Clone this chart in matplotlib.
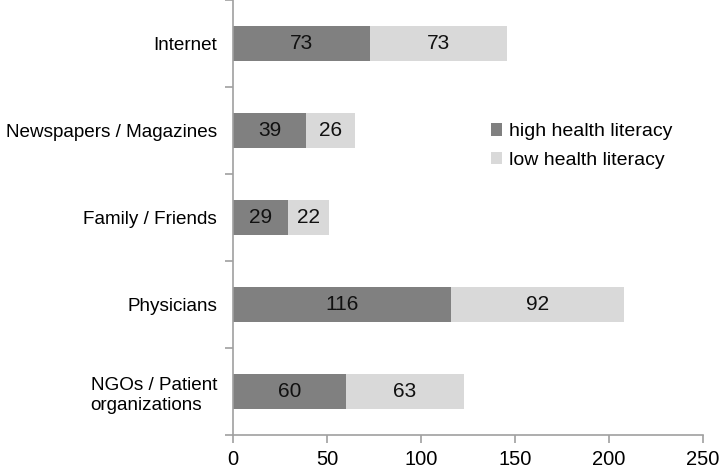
import matplotlib.pyplot as plt
import numpy as np

plt.rcParams['font.family'] = ['Liberation Sans', 'DejaVu Sans']

categories = ["Internet", "Newspapers / Magazines", "Family / Friends", "Physicians",
              "NGOs / Patient\norganizations"]
high = [73, 39, 29, 116, 60]
low = [73, 26, 22, 92, 63]

fig = plt.figure(figsize=(7.2, 4.68), dpi=100)
ax = fig.add_axes([0.3236, 0.0705, 0.6528, 0.929])

y = np.arange(len(categories))
b1 = ax.barh(y, high, height=0.4, color="#808080", label="high health literacy")
b2 = ax.barh(y, low, left=high, height=0.4, color="#d9d9d9", label="low health literacy")

# value labels in the middle of each segment
for vals, lefts in [(high, [0] * len(high)), (low, high)]:
    for yi, v, l in zip(y, vals, lefts):
        ax.text(l + v / 2, yi, str(v), ha="center", va="center", fontsize=15, color="#111111")

ax.set_ylim(len(categories) - 0.5, -0.5)
ax.set_xlim(0, 250)
ax.set_xticks([0, 50, 100, 150, 200, 250])
ax.set_yticks(y)
ax.set_yticklabels(categories, fontsize=13.6)
ax.set_yticks(np.arange(-0.5, len(categories), 1), minor=True)
ax.tick_params(axis="y", which="major", length=0, pad=11.5)
ax.tick_params(axis="y", which="minor", length=6, color="#a0a0a0", width=1.2)
ax.tick_params(axis="x", length=6, color="#a0a0a0", width=1.2, labelsize=14.5, pad=5)
for lab in ax.get_yticklabels():
    lab.set_multialignment("left")
    lab.set_linespacing(1.3)

for s in ["top", "right"]:
    ax.spines[s].set_visible(False)
for s in ["left", "bottom"]:
    ax.spines[s].set_color("#a0a0a0")
    ax.spines[s].set_linewidth(1.2)

ax.legend(loc="upper left", bbox_to_anchor=(0.548, 0.717), frameon=False, fontsize=14,
          borderpad=0, borderaxespad=0, handlelength=0.6, handleheight=0.6,
          handletextpad=0.35, labelspacing=0.6)

fig.savefig("out.png", dpi=100)
